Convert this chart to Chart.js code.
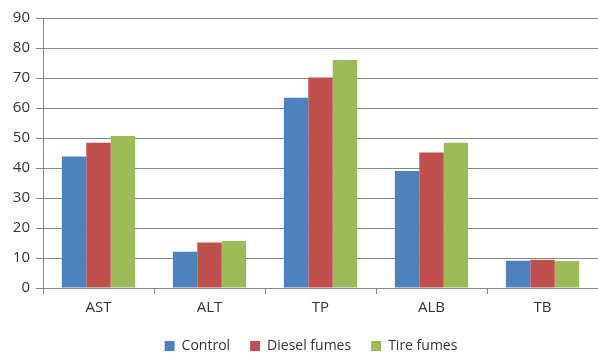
<!DOCTYPE html>
<html>
<head>
<meta charset="utf-8">
<script src="https://cdn.jsdelivr.net/npm/chart.js@4/dist/chart.umd.min.js"></script>
<style>
  html, body { margin: 0; padding: 0; background: #fff; }
  #wrap { width: 598px; height: 354px; }
</style>
</head>
<body>
<div id="wrap"><canvas id="barChart" width="598" height="354"></canvas></div>
<script>
// Kategorien und Messwerte
const categories = ["AST", "ALT", "TP", "ALB", "TB"];
const control = [43.8, 12.1, 63.4, 39.0, 9.1];
const dieselFumes = [48.4, 15.2, 70.2, 45.2, 9.4];
const tireFumes = [50.7, 15.7, 76.0, 48.4, 9.0];
const yTicks = [0, 10, 20, 30, 40, 50, 60, 70, 80, 90];

const fontFamily = "'Open Sans', 'DejaVu Sans', sans-serif";

// Legende etwas nach rechts schieben
const legendShift = {
  id: "legendShift",
  afterLayout(chart) {
    chart.legend.left += 12;
    chart.legend.right += 12;
  }
};

new Chart(document.getElementById("barChart").getContext("2d"), {
  type: "bar",
  data: {
    labels: categories,
    datasets: [
      { label: "Control", data: control, backgroundColor: "#4F81BD" },
      { label: "Diesel fumes", data: dieselFumes, backgroundColor: "#C0504D" },
      { label: "Tire fumes", data: tireFumes, backgroundColor: "#9BBB59" }
    ]
  },
  plugins: [legendShift],
  options: {
    responsive: false,
    animation: false,
    devicePixelRatio: 1,
    layout: { padding: { top: 18, right: 0, bottom: 0, left: 0 } },
    datasets: {
      bar: { barPercentage: 1.0, categoryPercentage: 0.66 }
    },
    plugins: {
      tooltip: { enabled: false },
      legend: {
        position: "bottom",
        maxHeight: 35,
        labels: {
          boxWidth: 10,
          boxHeight: 10,
          padding: 20,
          color: "#333",
          font: { family: fontFamily, size: 14 }
        }
      }
    },
    scales: {
      x: {
        grid: {
          offset: true,
          drawOnChartArea: false,
          drawTicks: true,
          tickLength: 6,
          color: "#868686"
        },
        border: { color: "#868686" },
        ticks: {
          color: "#333",
          padding: 5,
          font: { family: fontFamily, size: 15 }
        },
        afterFit(scale) { scale.height = 31; }
      },
      y: {
        min: 0,
        max: 90,
        afterBuildTicks(scale) {
          scale.ticks = yTicks.map(v => ({ value: v }));
        },
        grid: {
          color: "#868686",
          tickLength: 7
        },
        border: { color: "#868686" },
        ticks: {
          color: "#333",
          padding: 6,
          font: { family: fontFamily, size: 15 }
        },
        afterFit(scale) { scale.width = 43; }
      }
    }
  }
});
</script>
</body>
</html>
